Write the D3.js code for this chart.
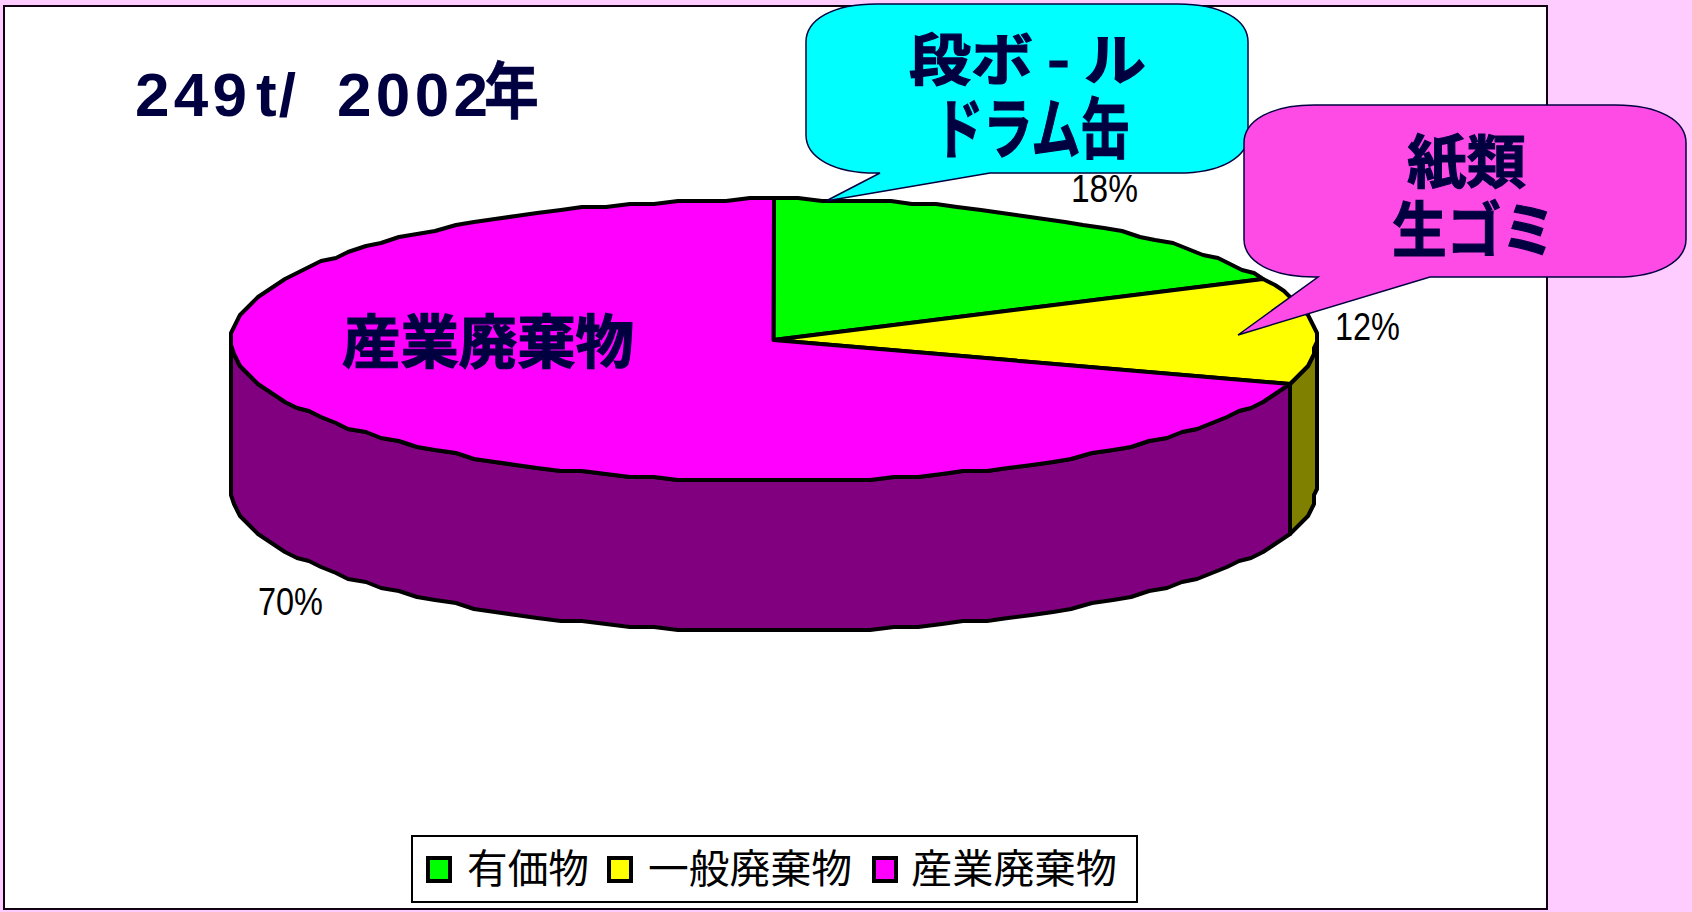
<!DOCTYPE html>
<html>
<head>
<meta charset="utf-8">
<script src="https://cdn.jsdelivr.net/npm/d3@7"></script>
<style>
  html, body { margin: 0; padding: 0; background: #ffccff; overflow: hidden; }
  svg { display: block; }
</style>
</head>
<body>
<div id="chart"></div>
<script>
const categories = ["有価物", "一般廃棄物", "産業廃棄物"];
const values = [18, 12, 70];
const percentLabels = ["18%", "12%", "70%"];
const topColors = ["#00ff00", "#ffff00", "#ff00ff"];
const sideColors = ["#008000", "#808000", "#800080"];

const width = 1692, height = 912;
const navy = "#000040";
const cjk = '"Noto Sans CJK JP", "Noto Sans", sans-serif';

const svg = d3.select("#chart").append("svg").attr("width", width).attr("height", height);

// white plot panel
svg.append("rect").attr("x", 4).attr("y", 6).attr("width", 1543).attr("height", 903)
  .attr("fill", "#fff").attr("stroke", "#100010").attr("stroke-width", 2);

// 3d pie, ellipse coordinates come from two scales
const xScale = d3.scaleLinear().domain([-1, 1]).range([231, 1316]);
const yScale = d3.scaleLinear().domain([-1, 1]).range([199, 481]);
const depth = 150;
const arcs = d3.pie().sort(null).startAngle(0).endAngle(2 * Math.PI)(values);

// the original edge is stair stepped, so snap to a coarse grid
function snap(v) { return Math.round(v / 3) * 3; }
function edgePoints(a0, a1, dy) {
  const n = Math.max(2, Math.ceil((a1 - a0) / 0.045));
  return d3.range(n + 1).map(i => {
    const a = a0 + (a1 - a0) * i / n;
    return [snap(xScale(Math.sin(a))), snap(yScale(-Math.cos(a))) + dy];
  });
}
const line = d3.line();

// side walls: only the part facing the viewer
const rightPoint = Math.PI / 2, leftPoint = 3 * Math.PI / 2;
arcs.forEach((d, i) => {
  const a0 = Math.max(d.startAngle, rightPoint);
  const a1 = Math.min(d.endAngle, leftPoint);
  if (a1 <= a0) return;
  const pts = edgePoints(a0, a1, 0).concat(edgePoints(a0, a1, depth).reverse());
  svg.append("path").attr("d", line(pts) + "Z")
    .attr("fill", sideColors[i]).attr("stroke", "#000").attr("stroke-width", 4)
    .attr("stroke-linejoin", "round");
});

// top slices
arcs.forEach((d, i) => {
  const pts = [[xScale(0), yScale(0)]].concat(edgePoints(d.startAngle, d.endAngle, 0));
  svg.append("path").attr("d", line(pts) + "Z")
    .attr("fill", topColors[i]).attr("stroke", "#000").attr("stroke-width", 4)
    .attr("stroke-linejoin", "round");
});

function fitText(str, x0, x1, baseline, size, opts) {
  opts = opts || {};
  svg.append("text")
    .attr("x", x0).attr("y", baseline)
    .attr("font-family", opts.family || cjk)
    .attr("font-size", size)
    .attr("font-weight", opts.weight || "bold")
    .attr("fill", opts.fill || navy)
    .attr("stroke", opts.heavy ? (opts.fill || navy) : "none")
    .attr("stroke-width", opts.heavy || 0)
    .attr("textLength", x1 - x0)
    .attr("lengthAdjust", opts.adjust || "spacingAndGlyphs")
    .attr("xml:space", "preserve")
    .text(str);
}

// percent labels
const arial = '"Liberation Sans", Arial, sans-serif';
const labelBoxes = [[1071, 1138, 202], [1335, 1400, 340], [258, 323, 615]];
percentLabels.forEach((t, i) => {
  const b = labelBoxes[i];
  fitText(t, b[0], b[1], b[2], 38, { family: arial, weight: "normal", fill: "#000" });
});

// rounded box with a pointer on the bottom edge
function callout(x0, y0, x1, y1, rx, ry, baseA, baseB, tip, fill) {
  const p = d3.path();
  p.moveTo(x0 + rx, y0);
  p.lineTo(x1 - rx, y0);
  p.bezierCurveTo(x1 - rx * 0.4, y0, x1, y0 + ry * 0.4, x1, y0 + ry);
  p.lineTo(x1, y1 - ry);
  p.bezierCurveTo(x1, y1 - ry * 0.4, x1 - rx * 0.4, y1, x1 - rx, y1);
  p.lineTo(baseB, y1);
  p.lineTo(tip[0], tip[1]);
  p.lineTo(baseA, y1);
  p.lineTo(x0 + rx, y1);
  p.bezierCurveTo(x0 + rx * 0.4, y1, x0, y1 - ry * 0.4, x0, y1 - ry);
  p.lineTo(x0, y0 + ry);
  p.bezierCurveTo(x0, y0 + ry * 0.4, x0 + rx * 0.4, y0, x0 + rx, y0);
  p.closePath();
  svg.append("path").attr("d", p.toString())
    .attr("fill", fill).attr("stroke", navy).attr("stroke-width", 1.5);
}
callout(806, 4, 1248, 173, 70, 38, 880, 990, [826, 201], "#00ffff");
callout(1244, 105, 1686, 277, 70, 38, 1318, 1430, [1238, 335], "#ff4be6");

// callout and slice captions
const heavyCaption = { heavy: 1.2 };
fitText("段ボ - ル", 909, 1146, 80, 56, heavyCaption);
fitText("ドラム缶", 934, 1130, 153, 66, heavyCaption);
fitText("紙類", 1407, 1526, 183, 58, heavyCaption);
fitText("生ゴミ", 1392, 1556, 252, 60, heavyCaption);
fitText("産業廃棄物", 342, 634, 363, 58, heavyCaption);

// title, narrow and widely spaced digits
const narrow = '"Liberation Sans Narrow", "Liberation Sans", sans-serif';
const titleOpts = { family: narrow, adjust: "spacing" };
fitText("249", 135, 247, 116, 62, titleOpts);
fitText("t/", 256, 296, 116, 62, titleOpts);
fitText("2002", 337, 488, 116, 62, titleOpts);
fitText("年", 484, 539, 114, 62, { heavy: 0.5 });

// legend
svg.append("rect").attr("x", 412).attr("y", 836).attr("width", 725).attr("height", 66)
  .attr("fill", "#fff").attr("stroke", "#000").attr("stroke-width", 2);
const legendSwatch = [428, 609, 874];
const legendText = [[467, 589], [648, 852], [911, 1117]];
categories.forEach((c, i) => {
  svg.append("rect").attr("x", legendSwatch[i]).attr("y", 858).attr("width", 22).attr("height", 23)
    .attr("fill", topColors[i]).attr("stroke", "#000").attr("stroke-width", 4);
  fitText(c, legendText[i][0], legendText[i][1], 883, 40, { weight: "normal", fill: "#000" });
});
</script>
</body>
</html>
